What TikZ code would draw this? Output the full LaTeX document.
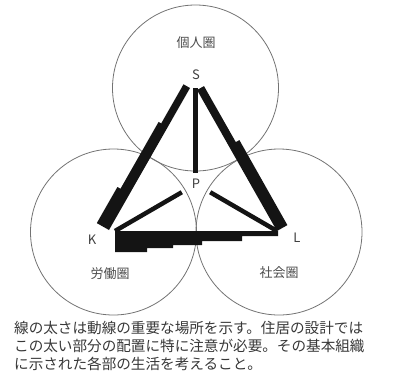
\documentclass[tikz,border=0pt]{standalone}
\usepackage{fontspec}
\setmainfont{Noto Sans CJK JP}
\usetikzlibrary{positioning}

\begin{document}
\begin{tikzpicture}[x=1pt,y=-1pt,
 zone/.style={draw=black!55,line width=0.8pt},
 zonelabel/.style={text=black!70,font=\fontsize{13}{13}\selectfont},
 pointlabel/.style={text=black!75,font=\fontsize{13}{13}\selectfont},
 band/.style={fill=black!92,draw=none},
 link/.style={draw=black!92,line width=4.5pt}]
\useasboundingbox (0,0) rectangle (405,376);

% three spheres
\draw[zone] (195.5,88) circle[radius=83];
\draw[zone] (113.5,232) circle[radius=83];
\draw[zone] (279,232) circle[radius=83];
\node[zonelabel] (indiv) at (196,43) {個人圏};
\node[zonelabel] (work) at (110,274) {労働圏};
\node[zonelabel] (social) at (279,273) {社会圏};

% corner points
\coordinate (apex) at (195,88);
\coordinate (kp) at (115,231);
\coordinate (lp) at (277,231);
\node[pointlabel] (S) at (196,75) {S};
\node[pointlabel] (K) at (92,240) {K};
\node[pointlabel] (L) at (297,238) {L};
\node[pointlabel,minimum width=28pt,minimum height=22pt] (P) at (196,184) {P};

% thick lines S-K, S-L, K-L
\fill[band] (183.5,84.3) -- (161.2,123.4) -- (158.6,121.9) -- (120.5,188.7)
 -- (117.4,187.0) -- (96.8,223.1) -- (109,230) -- (190,88) -- cycle;
\fill[band] (204.0,86.1) -- (235.8,142.1) -- (239.4,140.1) -- (287.4,225.1)
 -- (lp) -- (197,90) -- cycle;
\fill[band] (kp) -- (278,231) -- (278,236) -- (242,236) -- (242,241)
 -- (202,241) -- (202,245) -- (173,245) -- (173,248) -- (147,248)
 -- (147,252) -- (115,252) -- cycle;

% lines to P
\draw[link,line width=5pt] (apex) -- (apex |- P.north);
\draw[link] (kp) -- (P);
\draw[link] (lp) -- (P);

% note
\node[anchor=north west,align=left,inner sep=0pt,text=black!78,
 font=\fontsize{14.6}{18}\selectfont] (note) at (14,321)
 {線の太さは動線の重要な場所を示す。住居の設計では\\
 この太い部分の配置に特に注意が必要。その基本組織\\
 に示された各部の生活を考えること。};
\end{tikzpicture}
\end{document}
